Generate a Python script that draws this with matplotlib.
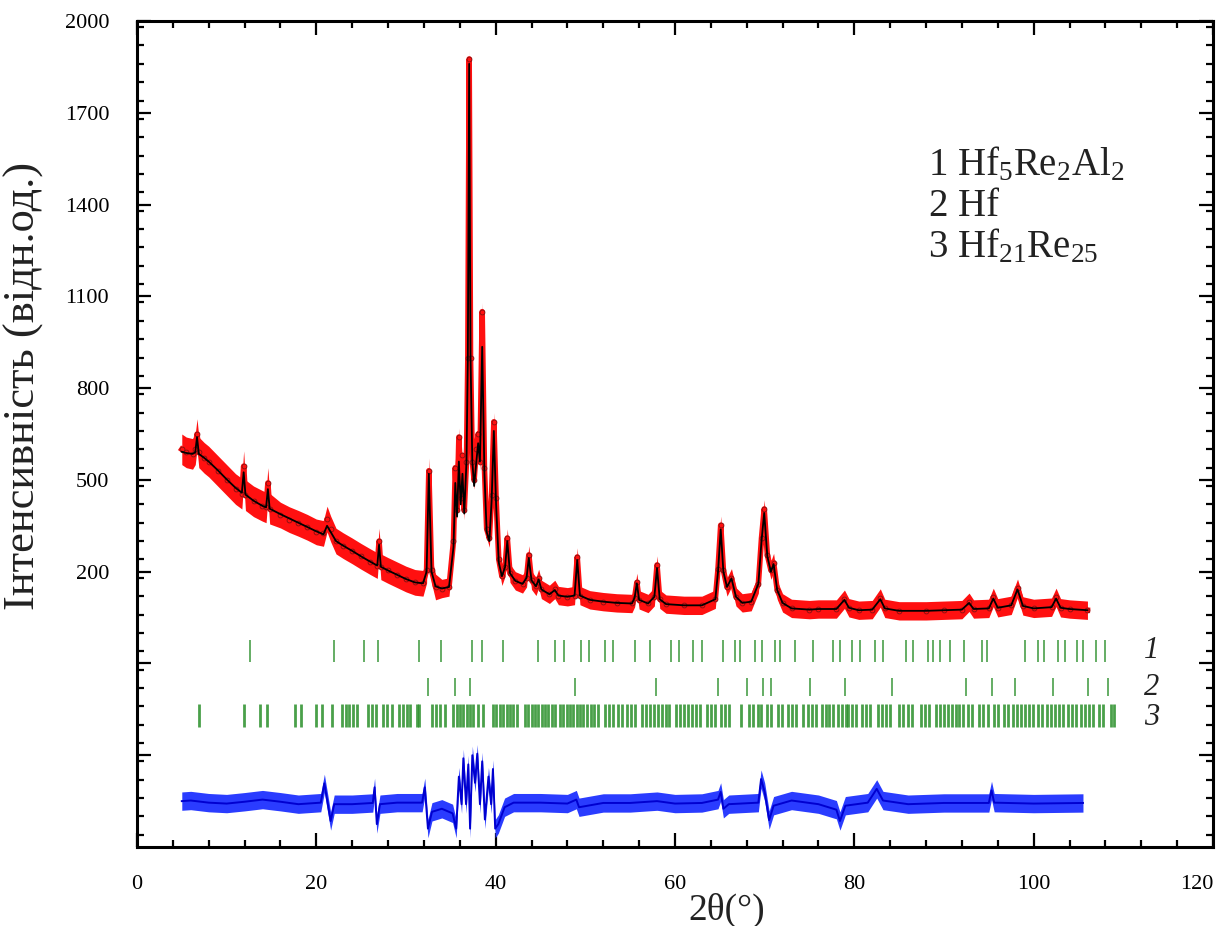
"""Rietveld refinement plot for the Hf-Re-Al sample (obs / calc / diff)."""

import matplotlib
matplotlib.use("Agg")
import matplotlib.pyplot as plt
import numpy as np
from matplotlib.ticker import FixedLocator, MultipleLocator

plt.rcParams["font.family"] = ["Liberation Serif", "DejaVu Serif"]
plt.rcParams["mathtext.fontset"] = "custom"
plt.rcParams["mathtext.rm"] = "Liberation Serif"
plt.rcParams["mathtext.it"] = "Liberation Serif:italic"

two_theta = [
    5.0, 5.5, 6.2, 6.5, 6.7, 6.9, 7.5, 8.0, 9.0, 10.0,
    11.0, 11.7, 11.9, 12.1, 13.0, 14.0, 14.4, 14.6, 14.8, 16.0,
    17.0, 18.0, 19.0, 20.0, 20.8, 21.2, 21.6, 22.2, 23.0, 24.0,
    25.0, 26.0, 26.8, 27.0, 27.2, 28.0, 29.0, 30.0, 31.0, 31.9,
    32.3, 32.55, 32.85, 33.3, 34.0, 34.8, 35.3, 35.5, 35.7, 35.9,
    36.1, 36.3, 36.5, 36.75, 36.9, 37.05, 37.2, 37.4, 37.6, 37.85,
    38.05, 38.25, 38.5, 38.75, 39.0, 39.3, 39.55, 39.8, 40.05, 40.35,
    40.7, 41.05, 41.3, 41.6, 42.2, 43.0, 43.45, 43.7, 44.0, 44.5,
    44.8, 45.1, 46.0, 46.6, 47.0, 48.0, 48.8, 49.1, 49.4, 50.5,
    52.0, 53.5, 55.2, 55.5, 55.75, 56.0, 57.0, 57.7, 58.0, 58.3,
    59.0, 61.0, 63.0, 64.5, 64.8, 65.1, 65.4, 65.8, 66.3, 66.8,
    67.5, 68.5, 69.3, 69.65, 69.95, 70.3, 70.7, 71.0, 71.4, 72.0,
    73.0, 75.0, 76.0, 78.0, 78.9, 79.4, 80.5, 82.0, 82.9, 83.4,
    85.0, 88.0, 90.0, 92.0, 92.8, 93.3, 95.0, 95.5, 96.0, 97.5,
    98.2, 98.8, 100.0, 102.0, 102.5, 103.0, 104.0, 106.0,
]
y_obs = [
    600, 590, 585, 600, 650, 590, 572, 560, 530, 500,
    470, 455, 545, 450, 430, 415, 410, 490, 406, 385,
    370, 358, 345, 330, 325, 372, 340, 300, 285, 268,
    250, 233, 220, 300, 216, 204, 190, 176, 165, 162,
    205, 530, 205, 150, 145, 150, 300, 540, 400, 640,
    440, 580, 400, 560, 900, 1876, 900, 560, 500, 600,
    650, 560, 1050, 540, 340, 310, 450, 690, 440, 240,
    185, 215, 310, 195, 170, 160, 180, 255, 172, 152,
    178, 142, 126, 142, 122, 118, 122, 248, 122, 108,
    102, 98, 96, 115, 165, 108, 96, 118, 222, 110,
    94, 90, 90, 110, 210, 352, 205, 150, 180, 118,
    98, 102, 160, 310, 405, 255, 205, 230, 140, 98,
    80, 76, 78, 78, 110, 82, 74, 76, 114, 80,
    72, 72, 74, 76, 100, 78, 80, 116, 82, 90,
    146, 88, 80, 84, 116, 82, 78, 74,
]
y_calc = [
    592, 588, 585, 590, 640, 585, 572, 560, 532, 502,
    474, 458, 525, 452, 432, 415, 410, 470, 406, 388,
    374, 360, 346, 332, 322, 350, 330, 300, 285, 268,
    250, 233, 220, 288, 216, 204, 190, 176, 165, 162,
    200, 520, 200, 152, 145, 150, 280, 490, 380, 560,
    420, 520, 390, 560, 900, 1860, 900, 560, 480, 560,
    620, 560, 935, 520, 330, 300, 430, 660, 420, 230,
    185, 215, 300, 195, 170, 160, 180, 245, 172, 152,
    175, 142, 126, 140, 122, 118, 122, 238, 122, 108,
    102, 98, 96, 115, 162, 108, 96, 118, 212, 110,
    94, 90, 90, 110, 200, 338, 200, 150, 178, 118,
    98, 102, 160, 300, 392, 250, 200, 225, 140, 98,
    80, 76, 78, 78, 108, 82, 74, 76, 110, 80,
    72, 72, 74, 76, 98, 78, 80, 112, 82, 90,
    142, 88, 80, 84, 112, 82, 78, 74,
]

# difference curve (obs - calc, shifted down)
diff_theta = [
    5.0, 6.0, 8.0, 10.0, 12.0, 14.0, 16.0, 18.0, 20.5, 20.9,
    21.2, 21.6, 22.0, 24.0, 26.3, 26.5, 26.75, 27.1, 29.0, 31.8,
    32.1, 32.45, 32.9, 34.0, 35.2, 35.6, 35.9, 36.2, 36.4, 36.7,
    36.95, 37.15, 37.4, 37.7, 37.95, 38.25, 38.5, 38.8, 39.2, 39.5,
    39.7, 39.95, 40.3, 41.0, 42.0, 45.0, 48.0, 49.0, 49.3, 52.0,
    55.0, 58.0, 60.0, 63.0, 64.8, 65.1, 65.4, 66.0, 69.3, 69.6,
    70.0, 70.5, 71.0, 73.0, 76.0, 78.0, 78.4, 79.0, 81.5, 82.5,
    83.2, 86.0, 90.0, 95.0, 95.3, 95.6, 100.0, 105.5,
]
diff_val = [
    -550, -548, -555, -558, -552, -545, -552, -560, -555, -492,
    -545, -615, -560, -560, -556, -505, -625, -560, -555, -555,
    -505, -640, -585, -575, -590, -640, -470, -560, -410, -560,
    -430, -640, -400, -490, -395, -560, -420, -610, -470, -560,
    -445, -640, -625, -570, -555, -555, -558, -545, -570, -556,
    -556, -550, -558, -556, -545, -520, -575, -560, -555, -478,
    -520, -612, -565, -548, -560, -578, -615, -565, -555, -510,
    -548, -560, -556, -556, -515, -555, -558, -556,
]

# Bragg reflection positions, one list per phase
phase_labels = ["1", "2", "3"]
phase_names = [r"Hf$_5$Re$_2$Al$_2$", "Hf", r"Hf$_{21}$Re$_{25}$"]
phase1_ticks = [
    12.6, 22.0, 25.3, 26.9, 31.4, 33.9, 37.4, 38.5, 40.8, 44.7,
    46.6, 47.6, 49.5, 50.4, 52.2, 53.1, 55.5, 57.2, 59.6, 60.4,
    62.0, 63.0, 65.3, 66.7, 67.2, 68.9, 69.7, 71.2, 71.7, 73.4,
    75.4, 77.6, 78.4, 79.7, 80.6, 82.3, 83.2, 85.8, 86.6, 88.2,
    88.8, 89.5, 90.7, 92.2, 94.2, 94.8, 99.0, 100.5, 101.1, 102.7,
    103.5, 104.8, 105.5, 107.0, 108.0,
]
phase2_ticks = [
    32.5, 35.5, 37.1, 48.8, 57.9, 64.8, 68.0, 69.8, 70.7, 75.1,
    79.0, 84.2, 92.5, 95.3, 97.9, 102.2, 106.1, 108.3,
]
phase3_ticks = [
    6.9, 11.9, 13.7, 14.5, 17.6, 18.3, 20.0, 20.6, 21.8, 22.82,
    23.30, 23.68, 24.05, 24.49, 25.72, 26.17, 26.65, 27.47, 27.91, 28.40,
    29.21, 29.62, 30.07, 30.44, 31.26, 31.48, 32.86, 33.34, 33.79, 34.34,
    35.27, 35.65, 36.02, 36.39, 36.76, 37.13, 37.50, 38.06, 38.62, 39.66,
    40.03, 40.48, 40.85, 41.22, 41.59, 41.97, 42.34, 43.27, 43.64, 44.01,
    44.38, 44.75, 45.13, 45.50, 45.87, 46.24, 46.61, 47.17, 47.54, 47.91,
    48.28, 48.66, 49.03, 49.40, 49.77, 50.14, 50.63, 51.00, 51.37, 52.19,
    52.64, 53.12, 53.60, 54.12, 54.61, 55.09, 55.54, 56.28, 56.73, 57.21,
    57.69, 58.06, 58.51, 58.96, 59.33, 60.07, 60.52, 60.96, 61.41, 61.86,
    62.30, 62.78, 63.53, 64.01, 64.46, 65.13, 65.57, 66.02, 67.36, 68.25,
    68.73, 69.22, 69.59, 70.22, 70.70, 71.52, 71.97, 72.56, 73.01, 73.45,
    74.31, 74.79, 75.24, 75.68, 76.35, 76.80, 77.17, 77.65, 78.14, 78.58,
    79.03, 79.26, 79.70, 80.15, 80.82, 81.26, 81.75, 82.60, 83.05, 83.50,
    83.98, 85.02, 85.47, 85.95, 86.39, 87.44, 87.88, 88.33, 89.07, 89.55,
    90.04, 90.41, 90.86, 91.30, 91.67, 92.16, 92.64, 93.09, 93.94, 94.39,
    94.87, 95.61, 96.06, 96.73, 97.17, 97.73, 98.10, 98.59, 99.03, 99.48,
    99.96, 100.52, 100.97, 101.45, 101.93, 102.38, 102.83, 103.31, 103.79, 104.24,
    104.72, 105.28, 105.72, 106.17, 106.65, 107.29, 107.77, 108.62, 109.00,
]

x_tick_values = [0, 20, 40, 60, 80, 100, 120]
y_tick_values = [-400, -100, 200, 500, 800, 1100, 1400, 1700, 2000]


def draw_profile(a_x):
    """Observed points (red scatter band), calculated curve and difference."""
    x_obs = np.array(two_theta)
    obs = np.array(y_obs)
    # half height of the red scatter band, wider at low angles (visual only)
    band = np.where(x_obs < 15, 50, np.where(x_obs < 34, 42, 30))
    a_x.fill_between(x_obs, obs - band, obs + band, color="#ff1010", lw=0, zorder=2)
    a_x.plot(x_obs, obs, color="#ff1010", lw=4, zorder=2)
    a_x.plot(x_obs, obs, "o", ms=3.5, mfc="#ff1010", mec="#801010", mew=0.6, zorder=3)
    a_x.plot(x_obs, y_calc, color="black", lw=1.3, zorder=4)

    x_dif = np.array(diff_theta)
    dif = np.array(diff_val)
    a_x.fill_between(x_dif, dif - 30, dif + 30, color="#2a3cff", lw=0, zorder=2)
    a_x.plot(x_dif, dif, color="#0000d0", lw=1.4, zorder=3)


def draw_reflections(a_x):
    """Green Bragg bars for the three phases."""
    rows = [(phase1_ticks, -95, -23, 1.2), (phase2_ticks, -206, -147, 1.2),
            (phase3_ticks, -307, -232, 2.0)]
    label_y = [-59, -177, -278]
    for (ticks, y_lo, y_hi, l_w), lab, y_lab in zip(rows, phase_labels, label_y):
        a_x.vlines(ticks, y_lo, y_hi, color="#2a8f2a", lw=l_w, alpha=0.85, zorder=2)
        a_x.text(113.2, y_lab, lab, fontsize=22, style="italic", color="#222222",
                 ha="center", va="center")


def draw_legend(a_x):
    """Phase list in the upper right corner."""
    y_pos = [0.826, 0.776, 0.726]
    for lab, name, y_p in zip(phase_labels, phase_names, y_pos):
        a_x.text(0.735, y_p, r"$\mathit{" + lab + "}$ " + name, transform=a_x.transAxes,
                 fontsize=28, color="#222222", va="center", ha="left")


fig = plt.figure(figsize=(12.25, 9.26), dpi=100)
ax = fig.add_axes([0.1118, 0.0853, 0.8784, 0.892])

draw_profile(ax)
draw_reflections(ax)
draw_legend(ax)

ax.set_xlim(0, 120)
ax.set_ylim(-700, 2000)
ax.set_xticks(x_tick_values)
ax.set_xticklabels([str(v) for v in x_tick_values])
ax.xaxis.set_minor_locator(MultipleLocator(4))
ax.yaxis.set_major_locator(FixedLocator(y_tick_values))
ax.yaxis.set_minor_locator(MultipleLocator(60))
ax.set_yticklabels(["" if v < 200 else str(v) for v in y_tick_values])

ax.tick_params(which="both", direction="in", top=True, right=True, width=1.6,
               labelsize=16, colors="black")
ax.tick_params(which="major", length=10, pad=20)
ax.tick_params(which="minor", length=5)
for spine in ax.spines.values():
    spine.set_linewidth(2.2)
# keep the last x label inside the figure
ax.get_xticklabels()[-1].set_horizontalalignment("right")

ax.set_ylabel("Інтенсивність (відн.од.)", fontsize=32, color="#222222")
ax.yaxis.set_label_coords(-0.086, 0.558)
ax.set_xlabel("2θ(°)", fontsize=27, color="#222222")
ax.xaxis.set_label_coords(0.548, -0.056)

fig.savefig("out.png", dpi=100)
